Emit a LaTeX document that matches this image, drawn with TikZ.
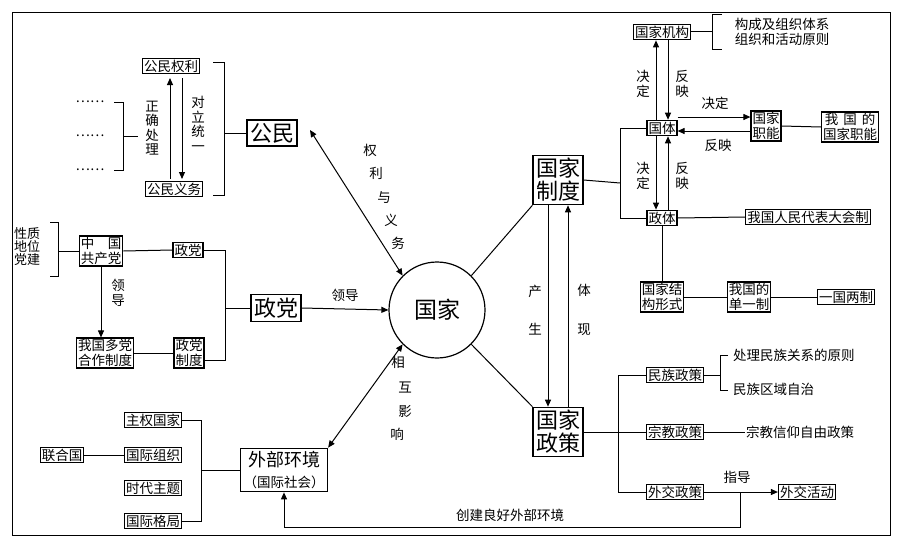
\documentclass[tikz,border=0pt]{standalone}
\usepackage{fontspec}
\setmainfont{Noto Sans CJK SC}
\usetikzlibrary{arrows.meta}
\begin{document}
\begin{tikzpicture}[x=1pt,y=-1pt,
  bx/.style={draw,line width=1.2pt,inner sep=1.5pt,font=\fontsize{13.5}{14.5}\selectfont,align=center},
  big/.style={draw,line width=1.2pt,inner sep=3pt,font=\fontsize{22}{23}\selectfont,align=center},
  tx/.style={inner sep=1pt,font=\fontsize{13.5}{14.5}\selectfont,align=center},
  vt/.style={inner sep=1pt,font=\fontsize{13.5}{14.5}\selectfont,align=center},
  ln/.style={line width=1pt},
  ar/.style={line width=1pt,-{Triangle[length=7pt,width=6pt]}},
  dar/.style={line width=1pt,{Triangle[length=7pt,width=6pt]}-{Triangle[length=7pt,width=6pt]}}]
\useasboundingbox (0,0) rectangle (899,543);
\draw[line width=1pt] (12,13) rectangle (890,535);
% citizens
\node[bx] (qr) at (171,66) {公民权利};
\node[bx] (yw) at (174,189) {公民义务};
\draw[ar] (170,179) -- (170,78);
\draw[ar] (182,78) -- (182,179);
\node[vt] (zq) at (152,128) {正\\确\\处\\理};
\node[vt] (dl) at (198,124) {对\\立\\统\\一};
\node[tx] (d1) at (90,102) {……};
\node[tx] (d2) at (90,136) {……};
\node[tx] (d3) at (90,170) {……};
\draw[ln] (114,102) -- (123,102) -- (123,170) -- (114,170);
\draw[ln] (123,136) -- (138,136);
\node[big] (gm) at (272,133) {公民};
\draw[ln] (213,63) -- (224,63) -- (224,195) -- (213,195);
\draw[ln] (224,133) -- (gm.west);
% party
\node[tx,font=\fontsize{13}{13}\selectfont] (xz) at (27,247) {性质\\地位\\党建};
\draw[ln] (50,222) -- (58,222) -- (58,276) -- (50,276);
\node[bx] (zg) at (101,251) {中\quad 国\\共产党};
\draw[ln] (58,251) -- (zg.west);
\node[bx] (zd) at (188,250) {政党};
\draw[ln] (zg.east) -- (zd.west);
\node[bx] (dd) at (105,353) {我国多党\\合作制度};
\node[bx] (zdzd) at (189,353) {政党\\制度};
\draw[ln] (dd.east) -- (zdzd.west);
\draw[ar] (zg.south) -- (dd.north -| zg.south);
\node[vt] (ld1) at (118,293) {领\\导};
\node[big] (zdb) at (276,308) {政党};
\draw[ln] (zd.east) -- (225,250) -- (225,360) -- (zdzd.east |- 0,360);
\draw[ln] (225,308) -- (zdb.west);
% country
\node[draw,circle,line width=1.2pt,minimum size=96pt,font=\fontsize{23}{25}\selectfont] (gj) at (437,310) {国家};
\draw[ar] (zdb.east) -- (gj.west);
\node[tx] (ld2) at (345,295) {领导};
\draw[dar] (310,130) -- (gj.north west);
\node[tx] at (370,150) {权}; \node[tx] at (376,173) {利}; \node[tx] at (384,197) {与};
\node[tx] at (391,220) {义}; \node[tx] at (398,243) {务};
% external
\node[big,font=\fontsize{18}{21}\selectfont] (wb) at (284,470) {外部环境\\{\fontsize{13.5}{15}\selectfont（国际社会）}};
\draw[dar] (gj.south west) -- (wb.north east);
\node[tx] at (398,362) {相}; \node[tx] at (405,387) {互}; \node[tx] at (405,411) {影}; \node[tx] at (397,434) {响};
\node[bx] (zq1) at (153,420) {主权国家};
\node[bx] (gz) at (153,455) {国际组织};
\node[bx] (sd) at (153,488) {时代主题};
\node[bx] (gg) at (153,521) {国际格局};
\node[bx] (lh) at (62,455) {联合国};
\draw[ln] (lh.east) -- (gz.west);
\draw[ln] (zq1.east) -- (201,420) -- (201,521) -- (gg.east);
\draw[ln] (201,470) -- (wb.west);
% state system
\node[big] (zdz) at (558,180) {国家\\制度};
\node[big] (zc) at (558,432) {国家\\政策};
\draw[ln] (gj.north east) -- (zdz.south west);
\draw[ln] (gj.south east) -- (zc.north west);
\draw[ar] (zdz.south -| 548,0) -- (zc.north -| 548,0);
\draw[ar] (zc.north -| 568,0) -- (zdz.south -| 568,0);
\node[vt] at (535,310) {产\\[24pt]生};
\node[vt] at (584,310) {体\\[24pt]现};
\node[bx] (gt) at (662,128) {国体};
\node[bx] (zt) at (662,218) {政体};
\draw[ln] (zdz.east) -- (620,183);
\draw[ln] (gt.west) -- (620,128) -- (620,218) -- (zt.west);
\node[bx] (jg) at (662,32) {国家机构};
\draw[ln] (jg.east) -- (712,32);
\draw[ln] (722,15) -- (712,15) -- (712,50) -- (722,50);
\node[tx,align=left] (gc) at (782,32) {构成及组织体系\\组织和活动原则};
\draw[ar] (gt.north -| 656,0) -- (jg.south -| 656,0);
\draw[ar] (jg.south -| 668,0) -- (gt.north -| 668,0);
\node[vt] at (643,84) {决\\定};
\node[vt] at (682,84) {反\\映};
\draw[ar] (gt.south -| 656,0) -- (zt.north -| 656,0);
\draw[ar] (zt.north -| 668,0) -- (gt.south -| 668,0);
\node[vt] at (643,176) {决\\定};
\node[vt] at (682,176) {反\\映};
\node[bx] (zn) at (766,126) {国家\\职能};
\draw[ar] (gt.east |- 0,117) -- (zn.west |- 0,117);
\draw[ar] (zn.west |- 0,131) -- (gt.east |- 0,131);
\node[tx] at (715,103) {决定};
\node[tx] at (718,145) {反映};
\node[bx] (wzn) at (850,127) {我\hspace{5pt}国\hspace{5pt}的\\国家职能};
\draw[ln] (zn.east) -- (wzn.west);
\node[bx] (rd) at (808,217) {我国人民代表大会制};
\draw[ln] (zt.east) -- (rd.west);
\node[bx] (jgxs) at (662,297) {国家结\\构形式};
\draw[ln] (zt.south) -- (jgxs.north);
\node[bx] (dy) at (749,297) {我国的\\单一制};
\draw[ln] (jgxs.east) -- (dy.west);
\node[bx] (yg) at (846,297) {一国两制};
\draw[ln] (dy.east) -- (yg.west);
% policies
\node[bx] (mz) at (675,375) {民族政策};
\node[bx] (zj) at (675,432) {宗教政策};
\node[bx] (wj) at (675,492) {外交政策};
\draw[ln] (zc.east) -- (618,432);
\draw[ln] (mz.west) -- (618,375) -- (618,492) -- (wj.west);
\draw[ln] (618,432) -- (zj.west);
\draw[ln] (mz.east) -- (720,375);
\draw[ln] (728,355) -- (720,355) -- (720,390) -- (728,390);
\node[tx,anchor=west] (cl) at (732,355) {处理民族关系的原则};
\node[tx,anchor=west] (qy) at (732,389) {民族区域自治};
\node[tx,anchor=west] (xy) at (745,432) {宗教信仰自由政策};
\draw[ln] (zj.east) -- (xy.west);
\node[bx] (hd) at (807,492) {外交活动};
\draw[ar] (wj.east) -- (hd.west);
\node[tx] at (737,477) {指导};
\coordinate (c1) at (740,492);
\draw[ar] (c1) -- (740,527) -- (284,527) -- (wb.south);
\node[tx] at (510,515) {创建良好外部环境};
\end{tikzpicture}
\end{document}
